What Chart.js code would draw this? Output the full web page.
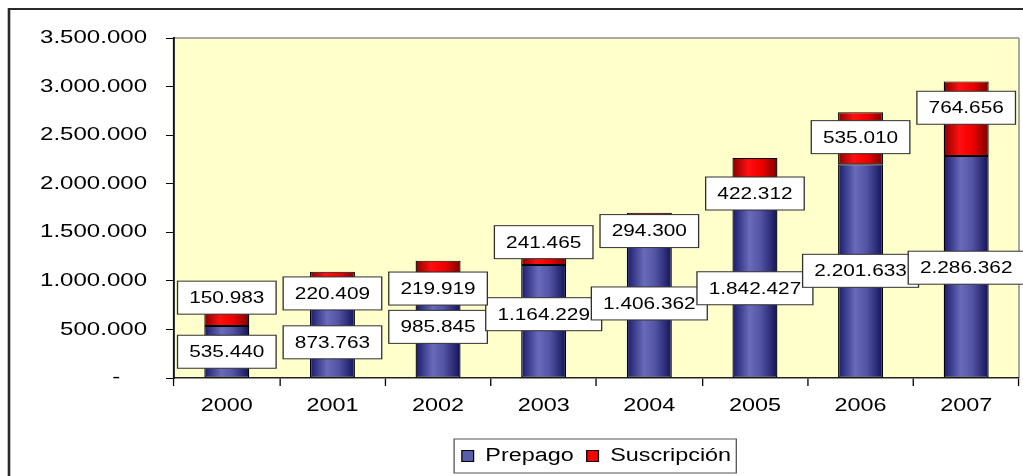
<!DOCTYPE html>
<html>
<head>
<meta charset="utf-8">
<script src="https://cdn.jsdelivr.net/npm/chart.js@4.4.1/dist/chart.umd.min.js"></script>
<style>
  html, body { margin: 0; background: #fff; }
  #wrap { width: 1023px; height: 476px; position: relative; }
</style>
</head>
<body>
<div id="wrap"><canvas id="chart"></canvas></div>
<script>
// Prepago / Suscripción stacked bars, 2000-2007.
const FONT = 'Arial, "Liberation Sans", sans-serif';

const YEARS = ['2000', '2001', '2002', '2003', '2004', '2005', '2006', '2007'];
const PREPAGO = [535440, 873763, 985845, 1164229, 1406362, 1842427, 2201633, 2286362];
const SUSCRIPCION = [150983, 220409, 219919, 241465, 294300, 422312, 535010, 764656];
const Y_MAX = 3500000, Y_STEP = 500000;

// label boxes were nudged by hand in the source, vertical px from segment centre
const PREPAGO_DY = [0, 7, -3, -7, -6, 0, 0, 1];
const SUSC_DY = [-21, 11, 17, -11, 4, 15, -1, -11];

// the source picture is stretched sideways; lay out in narrow units, widen on draw
const SX = 1.3;
const BAR_PCT = 0.426;
const PLOT_BG = '#ffffcc';

const BLUE = { flat: '#5c5cac', stops: [[0, '#1a1a6a'], [0.38, '#6a6abb'], [0.62, '#5555a6'], [1, '#12125a']] };
const RED = { flat: '#ff0000', stops: [[0, '#8a0000'], [0.35, '#ff1010'], [0.65, '#ee0000'], [1, '#7a0000']] };

const fmt = (v) => String(v).replace(/\B(?=(\d{3})+(?!\d))/g, '.');

function barFill(col) {
  return (c) => {
    const chart = c.chart;
    if (c.type !== 'data' || !chart.chartArea || !chart.scales.x) return col.flat;
    const x = chart.scales.x.getPixelForValue(c.dataIndex);
    const half = chart.scales.x.width / YEARS.length * BAR_PCT / 2;
    const g = chart.ctx.createLinearGradient(x - half, 0, x + half, 0);
    col.stops.forEach(([o, s]) => g.addColorStop(o, s));
    return g;
  };
}

const frame = {
  id: 'frame',
  beforeDraw(chart) {
    const { ctx, chartArea: a } = chart;
    const dpr = chart.currentDevicePixelRatio || 1;
    ctx.save();
    ctx.setTransform(SX * dpr, 0, 0, dpr, 0, 0);
    ctx.fillStyle = PLOT_BG;
    ctx.fillRect(a.left, a.top, a.right - a.left, a.bottom - a.top);
    // top and right edges of the plot area
    ctx.strokeStyle = '#8c8c8c';
    ctx.lineWidth = 1.5;
    ctx.beginPath();
    ctx.moveTo(a.left, a.top);
    ctx.lineTo(a.right, a.top);
    ctx.stroke();
    ctx.lineWidth = 1.5 / SX;
    ctx.beginPath();
    ctx.moveTo(a.right, a.top);
    ctx.lineTo(a.right, a.bottom);
    ctx.stroke();
  },
  afterDatasetsDraw(chart) {
    const { ctx } = chart;
    ctx.save();
    ctx.font = '16px ' + FONT;
    ctx.textAlign = 'center';
    ctx.textBaseline = 'middle';
    const shifts = [PREPAGO_DY, SUSC_DY];
    chart.data.datasets.forEach((ds, di) => {
      const meta = chart.getDatasetMeta(di);
      meta.data.forEach((bar, i) => {
        const text = fmt(ds.data[i]);
        const w = ctx.measureText(text).width + 18;
        const h = 33;
        const cx = bar.x;
        const cy = (bar.y + bar.base) / 2 + shifts[di][i];
        ctx.fillStyle = '#fff';
        ctx.fillRect(cx - w / 2, cy - h / 2, w, h);
        ctx.strokeStyle = '#303030';
        ctx.lineWidth = 1;
        ctx.strokeRect(cx - w / 2, cy - h / 2, w, h);
        ctx.fillStyle = '#000';
        ctx.fillText(text, cx, cy + 1);
      });
    });
    ctx.restore();
  },
  afterDraw(chart) {
    const { ctx } = chart;
    const boxes = chart.legend && chart.legend.legendHitBoxes;
    if (boxes && boxes.length) {
      const left = Math.min(...boxes.map((b) => b.left)) - 6;
      const right = Math.max(...boxes.map((b) => b.left + b.width)) + 4;
      const top = Math.min(...boxes.map((b) => b.top)) - 8;
      const bottom = Math.max(...boxes.map((b) => b.top + b.height)) + 8;
      ctx.strokeStyle = '#555';
      ctx.lineWidth = 1;
      ctx.strokeRect(left, top, right - left, bottom - top);
    }
    // outer frame of the whole chart (runs off the right and bottom)
    ctx.strokeStyle = '#2a2a2a';
    ctx.lineWidth = 2;
    ctx.strokeRect(9 / SX, 9, 1200, 1000);
    ctx.restore();
  },
};

const LEGEND_FILL = [BLUE.flat, RED.flat];

new Chart(document.getElementById('chart'), {
  type: 'bar',
  data: {
    labels: YEARS,
    datasets: [
      { label: 'Prepago', data: PREPAGO, backgroundColor: barFill(BLUE), borderColor: '#000', borderWidth: 1, borderSkipped: false },
      { label: 'Suscripción', data: SUSCRIPCION, backgroundColor: barFill(RED), borderColor: '#000', borderWidth: 1, borderSkipped: false },
    ],
  },
  options: {
    responsive: true,
    maintainAspectRatio: false,
    animation: false,
    events: [],
    datasets: { bar: { barPercentage: BAR_PCT, categoryPercentage: 1 } },
    layout: { padding: { left: 0, top: 38, right: 1023 - 1019 / SX, bottom: 1 } },
    plugins: {
      tooltip: { enabled: false },
      legend: {
        position: 'bottom',
        fullSize: false,
        labels: {
          font: { family: FONT, size: 18 },
          color: '#000',
          boxWidth: 9,
          boxHeight: 11,
          padding: 10,
          generateLabels: (chart) => Chart.defaults.plugins.legend.labels.generateLabels(chart)
            .map((l) => ({ ...l, fillStyle: LEGEND_FILL[l.datasetIndex], strokeStyle: '#000', lineWidth: 1 })),
        },
      },
    },
    scales: {
      x: {
        stacked: true,
        afterFit: (s) => { s.height = 59; },
        grid: { display: true, drawOnChartArea: false, drawTicks: true, tickLength: 8, tickColor: '#000', offset: true },
        border: { color: '#222', width: 1.5 },
        ticks: { font: { family: FONT, size: 18 }, color: '#000', padding: 9, maxRotation: 0 },
      },
      y: {
        stacked: true,
        min: 0,
        max: Y_MAX,
        afterFit: (s) => { s.width = 174 / SX; },
        grid: { display: true, drawOnChartArea: false, drawTicks: true, tickLength: 8 / SX, tickColor: '#000' },
        border: { color: '#111', width: 1.5 },
        ticks: {
          stepSize: Y_STEP,
          font: { family: FONT, size: 18.5 },
          color: '#000',
          padding: 14.6,
          callback: (v) => (v === 0 ? '-    ' : fmt(v)),
        },
      },
    },
  },
  plugins: [frame],
});
</script>
</body>
</html>
